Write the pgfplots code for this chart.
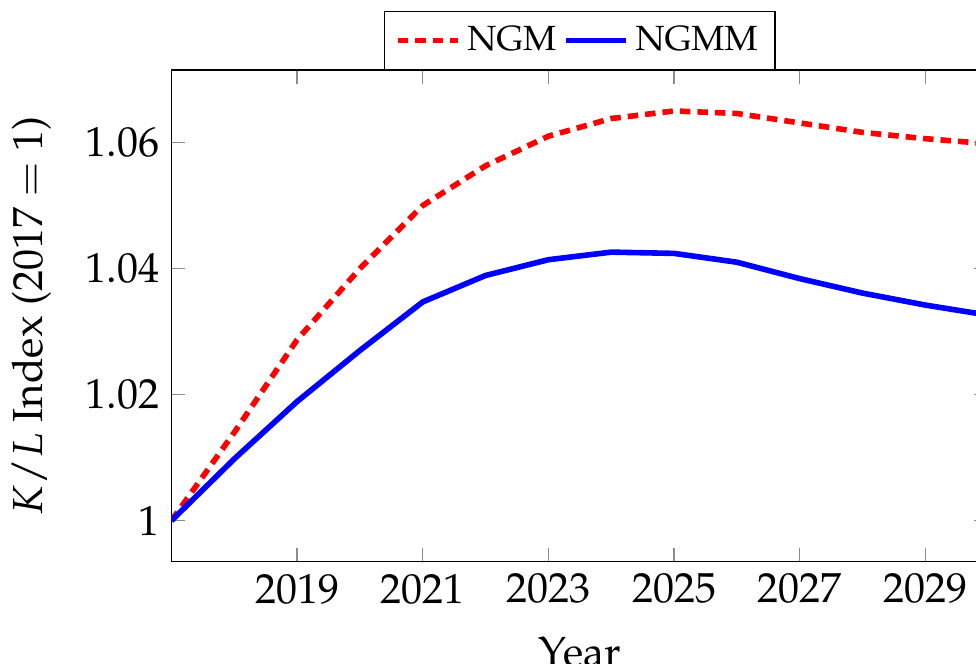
\documentclass[border=0pt]{standalone}
\usepackage[T1]{fontenc}
\usepackage{mathpazo}
\usepackage{pgfplots}
\pgfplotsset{compat=1.18}
\pgfplotstableread{
year ngm ngmm
2017 1.0000 1.0000
2018 1.0140 1.0098
2019 1.0287 1.0189
2020 1.0400 1.0270
2021 1.0500 1.0347
2022 1.0563 1.0389
2023 1.0610 1.0414
2024 1.0638 1.0426
2025 1.0650 1.0424
2026 1.0646 1.0410
2027 1.0631 1.0384
2028 1.0616 1.0361
2029 1.0606 1.0342
2030 1.0598 1.0326
}\datatable
\begin{document}
\begin{tikzpicture}
\begin{axis}[
  scale only axis,
  width=233.4pt, height=140.5pt,
  xmin=2017, xmax=2030,
  ymin=0.9935, ymax=1.0715,
  xtick={2019,2021,2023,2025,2027,2029},
  ytick={1,1.02,1.04,1.06},
  yticklabels={1,1.02,1.04,1.06},
  x tick label style={/pgf/number format/1000 sep={}},
  major tick length=4pt,
  tick style={black!45, line width=0.4pt},
  font=\fontsize{12}{14.4}\selectfont,
  xlabel={Year},
  ylabel={$K/L$ Index (2017 $=$ 1)},
  xlabel shift=2.6pt,
  ylabel shift=3pt,
  legend columns=-1,
  legend style={at={(0.5,1)}, anchor=south, draw=black, fill=white,
    font=\fontsize{10}{12}\selectfont},
]
\addplot[red, line width=1.6pt, densely dashed] table[x=year, y=ngm] {\datatable};
\addlegendentry{NGM}
\addplot[blue, line width=1.6pt] table[x=year, y=ngmm] {\datatable};
\addlegendentry{NGMM}
\end{axis}
\pgfresetboundingbox
\path[use as bounding box] ([shift={(-49.0pt,-29.23pt)}]current axis.south west) rectangle ([shift={(-3.49pt,20pt)}]current axis.north east);
\end{tikzpicture}
\end{document}
